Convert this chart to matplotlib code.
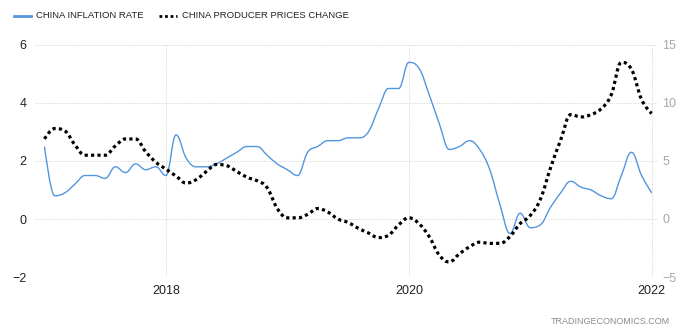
import numpy as np
import pandas as pd
import matplotlib
matplotlib.use('Agg')
from matplotlib import pyplot as plt
from matplotlib.path import Path
from matplotlib.patches import PathPatch

# monthly data, Jan 2017 - Jan 2022
months = pd.date_range('2017-01-01', '2022-01-01', freq='MS')

cpi = [2.5, 0.8, 0.9, 1.2, 1.5, 1.5, 1.4, 1.8, 1.6, 1.9, 1.7, 1.8,
       1.5, 2.9, 2.1, 1.8, 1.8, 1.9, 2.1, 2.3, 2.5, 2.5, 2.2, 1.9,
       1.7, 1.5, 2.3, 2.5, 2.7, 2.7, 2.8, 2.8, 3.0, 3.8, 4.5, 4.5,
       5.4, 5.2, 4.3, 3.3, 2.4, 2.5, 2.7, 2.4, 1.7, 0.5, -0.5, 0.2,
       -0.3, -0.2, 0.4, 0.9, 1.3, 1.1, 1.0, 0.8, 0.7, 1.5, 2.3, 1.5,
       0.9]

ppi = [6.9, 7.8, 7.6, 6.4, 5.5, 5.5, 5.5, 6.3, 6.9, 6.9, 5.8, 4.9,
       4.3, 3.7, 3.1, 3.4, 4.1, 4.7, 4.6, 4.1, 3.6, 3.3, 2.7, 0.9,
       0.1, 0.1, 0.4, 0.9, 0.6, 0.0, -0.3, -0.8, -1.2, -1.6, -1.4, -0.5,
       0.1, -0.4, -1.5, -3.1, -3.7, -3.0, -2.4, -2.0, -2.1, -2.1, -1.5, -0.4,
       0.3, 1.7, 4.4, 6.8, 9.0, 8.8, 9.0, 9.5, 10.7, 13.5, 12.9, 10.3,
       9.1]

x_ticks = [2018, 2020, 2022]
left_ticks = [-2, 0, 2, 4, 6]
right_ticks = [-5, 0, 5, 10, 15]


def spline_path(xs, ys, smoothing=1.5):
    # highcharts style spline through the points
    denom = smoothing + 1
    n = len(xs)
    verts = [(xs[0], ys[0])]
    codes = [Path.MOVETO]
    right_prev = (xs[0], ys[0])
    for i in range(1, n):
        x, y = xs[i], ys[i]
        if i < n - 1:
            px, py = xs[i - 1], ys[i - 1]
            nx, ny = xs[i + 1], ys[i + 1]
            lcx = (smoothing * x + px) / denom
            lcy = (smoothing * y + py) / denom
            rcx = (smoothing * x + nx) / denom
            rcy = (smoothing * y + ny) / denom
            if rcx != lcx:
                corr = ((rcy - lcy) * (rcx - x)) / (rcx - lcx) + y - rcy
                lcy += corr
                rcy += corr
            if lcy > py and lcy > y:
                lcy = max(py, y)
                rcy = 2 * y - lcy
            elif lcy < py and lcy < y:
                lcy = min(py, y)
                rcy = 2 * y - lcy
            if rcy > ny and rcy > y:
                rcy = max(ny, y)
                lcy = 2 * y - rcy
            elif rcy < ny and rcy < y:
                rcy = min(ny, y)
                lcy = 2 * y - rcy
            left = (lcx, lcy)
            right = (rcx, rcy)
        else:
            left = (x, y)
            right = (x, y)
        verts += [right_prev, left, (x, y)]
        codes += [Path.CURVE4] * 3
        right_prev = right
    return Path(verts, codes)


xs = [d.year + (d.month - 1) / 12 for d in months]

plt.rcParams['font.family'] = ['Liberation Sans', 'DejaVu Sans']

fig = plt.figure(figsize=(6.98, 3.32), dpi=100)
ax = fig.add_axes([35 / 698, 55 / 332, 623 / 698, 232 / 332])
ax2 = ax.twinx()

ax.set_xlim(2017 - 9.5 / 121.5, 2022 + 6.3 / 121.5)
ax.set_ylim(-2, 6)
ax2.set_ylim(-5, 15)

ax.set_xticks(x_ticks)
ax.set_xticklabels([str(t) for t in x_ticks])
ax.set_yticks(left_ticks)
ax2.set_yticks(right_ticks)

ax.grid(True, color='#d0d0d0', linestyle=(0, (1, 1.5)), linewidth=0.7)
for a in (ax, ax2):
    for s in a.spines.values():
        s.set_visible(False)
    a.tick_params(length=0)
ax.tick_params(axis='y', labelsize=9, colors='#222222', pad=6)
ax.tick_params(axis='x', labelsize=9, colors='#222222', pad=6)
ax2.tick_params(axis='y', labelsize=9, colors='#a8a8a8', pad=3)

blue = '#5296de'
ax.add_patch(PathPatch(spline_path(xs, cpi), fill=False, edgecolor=blue,
                       linewidth=1.0, zorder=3))
ax2.add_patch(PathPatch(spline_path(xs, ppi), fill=False, edgecolor='black',
                        linewidth=2.3, linestyle=(0, (1, 1.0)), zorder=3))

# legend
fig.add_artist(plt.Line2D([14 / 698, 31 / 698], [1 - 16 / 332] * 2, color=blue, linewidth=2))
fig.text(36 / 698, 1 - 16 / 332, 'CHINA INFLATION RATE', fontsize=6.8, color='#222222', va='center')
fig.add_artist(plt.Line2D([159 / 698, 177 / 698], [1 - 16 / 332] * 2, color='black',
                          linewidth=2, linestyle=(0, (1, 1))))
fig.text(182 / 698, 1 - 16 / 332, 'CHINA PRODUCER PRICES CHANGE', fontsize=6.8, color='#222222', va='center')

fig.text(670 / 698, 1 - 321 / 332, 'TRADINGECONOMICS.COM', fontsize=6.5, color='#8c8c8c',
         ha='right', va='center')

fig.savefig('out.png', dpi=100)
